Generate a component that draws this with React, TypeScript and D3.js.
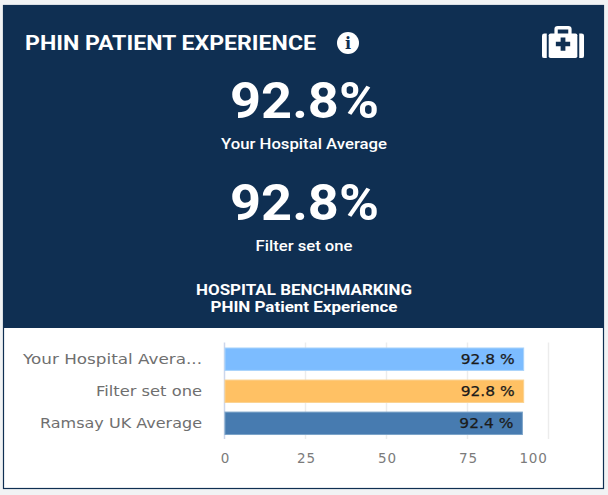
import React from "react";
import * as d3 from "d3";

const categories = ["Your Hospital Avera...", "Filter set one", "Ramsay UK Average"];
const values = [92.8, 92.8, 92.4];
const valueLabels = ["92.8 %", "92.8 %", "92.4 %"];
const barColors = ["#7cbcff", "#ffc164", "#477bb0"];
const barEdges = ["#a9d3fb", "#fbd391", "#7ba3c8"];
const categoryWidths = [179, 106, 162];
const xTicks = [0, 25, 50, 75, 100];
const stats = [
  { value: "92.8%", label: "Your Hospital Average", labelWidth: 166 },
  { value: "92.8%", label: "Filter set one", labelWidth: 97 },
];

const W = 608;
const H = 495;
const NAVY = "#0f2f52";

export default function App() {
  const x = d3.scaleLinear().domain([0, 100]).range([224.5, 548.5]);
  const y = d3.scaleBand<string>().domain(categories).range([343.5, 439]).paddingInner(0.3).paddingOuter(0.14);
  const statY = [101, 203];
  return (
    <svg
      width={W}
      height={H}
      viewBox={`0 0 ${W} ${H}`}
      style={{ position: "fixed", left: 0, top: 0, display: "block", background: "#f1f3f4" }}
    >
      <rect x={3.5} y={5.5} width={600} height={483} fill="#fff" stroke={NAVY} strokeWidth={1.2} />
      <rect x={3} y={5} width={601} height={323} fill={NAVY} />
      <text x={25} y={50} fill="#fff" fontFamily="Roboto" fontWeight={700} fontSize={20} textLength={291} lengthAdjust="spacingAndGlyphs">
        PHIN PATIENT EXPERIENCE
      </text>
      <circle cx={348} cy={43} r={11} fill="#fff" />
      <text x={348} y={49} textAnchor="middle" fill={NAVY} fontFamily="DejaVu Serif" fontWeight={700} fontSize={16}>
        i
      </text>
      {/* medical kit icon */}
      <g transform="translate(542 26) scale(0.955 0.88) translate(-542 -28.5)">
        <g fill="#fff">
          <path d="M555 38v-6a3.500 3.500 0 0 1 3.500-3.500h11a3.500 3.500 0 0 1 3.500 3.500v6h-3.500v-5.500h-11v5.500z" />
          <path d="M551 37h26a2 2 0 0 1 2 2v24a2 2 0 0 1-2 2h-26a2 2 0 0 1-2-2v-24a2 2 0 0 1 2-2z" />
          <path d="M544.500 37h2.500v28h-2.500a2.500 2.500 0 0 1-2.500-2.500v-23a2.500 2.500 0 0 1 2.500-2.500z" />
          <path d="M581 37h2.500a2.500 2.500 0 0 1 2.500 2.500v23a2.500 2.500 0 0 1-2.500 2.500h-2.500z" />
        </g>
        <path d="M561.500 41.500h5v5h5v5h-5v5h-5v-5h-5v-5h5z" fill={NAVY} />
      </g>

      {stats.map((s, i) => (
        <g key={i} textAnchor="middle" fill="#fff">
          <text x={304.5} y={statY[i] + 17} fontFamily="Roboto" fontWeight={700} fontSize={50} textLength={149} lengthAdjust="spacingAndGlyphs">
            {s.value}
          </text>
          <text x={304} y={statY[i] + 48} fontFamily="Roboto" fontWeight={500} fontSize={14.500} textLength={s.labelWidth} lengthAdjust="spacingAndGlyphs">
            {s.label}
          </text>
        </g>
      ))}
      <g textAnchor="middle" fill="#fff" fontFamily="Roboto" fontWeight={700} fontSize={14}>
        <text x={304} y={295} textLength={216} lengthAdjust="spacingAndGlyphs">HOSPITAL BENCHMARKING</text>
        <text x={304} y={312} textLength={187} lengthAdjust="spacingAndGlyphs">PHIN Patient Experience</text>
      </g>

      {xTicks.map((t) => (
        <g key={t}>
          <line
            x1={x(t)}
            x2={x(t)}
            y1={342.5}
            y2={439}
            stroke={t === 0 ? "#ccd6eb" : "#ececec"}
            strokeWidth={1.5}
          />
          <text
            x={t === 100 ? x(t) - 15 : x(t) + 1}
            y={463}
            textAnchor="middle"
            fill="#7b7b7b"
            fontFamily="DejaVu Sans"
            fontSize={13.500}
            letterSpacing={0.8}
          >
            {t}
          </text>
        </g>
      ))}
      {categories.map((c, i) => {
        const by = y(c) as number;
        return (
          <g key={c}>
            <rect
              x={x(0) + 0.5}
              y={by}
              width={x(values[i]) - x(0) - 2}
              height={y.bandwidth()}
              fill={barColors[i]}
              stroke={barEdges[i]}
              strokeWidth={1}
            />
            <text
              x={202}
              y={by + y.bandwidth() / 2 + 4.500}
              textAnchor="end"
              fill="#6f6f6f"
              fontFamily="DejaVu Sans"
              fontSize={14}
              textLength={categoryWidths[i]}
              lengthAdjust="spacingAndGlyphs"
            >
              {c}
            </text>
            <text
              x={x(values[i]) - 10.500}
              y={by + y.bandwidth() / 2 + 5}
              textAnchor="end"
              fill="#1b1b1b"
              stroke="#1b1b1b"
              strokeWidth={0.25}
              fontFamily="DejaVu Sans"
              fontSize={14}
              textLength={54}
              lengthAdjust="spacingAndGlyphs"
            >
              {valueLabels[i]}
            </text>
          </g>
        );
      })}
    </svg>
  );
}
